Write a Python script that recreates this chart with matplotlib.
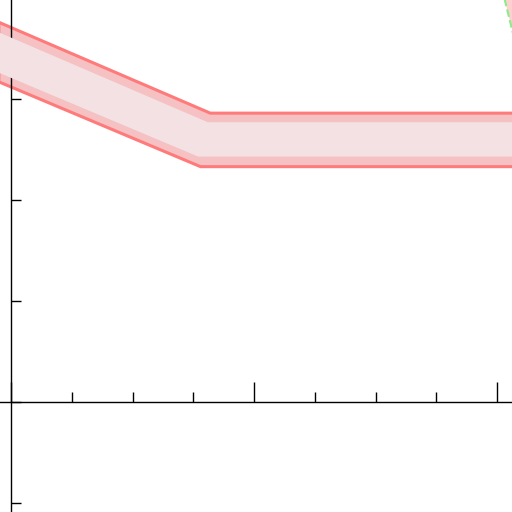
import numpy as np
import matplotlib
matplotlib.use("Agg")
import matplotlib.pyplot as plt
from matplotlib.ticker import MultipleLocator

# band edges (outer and inner)
outer_top_x = [-0.05, 0.82, 2.1]
outer_top_y = [3.76, 2.86, 2.86]
outer_bot_x = [-0.05, 0.78, 2.1]
outer_bot_y = [3.17, 2.33, 2.33]

inner_top_x = [-0.05, 0.81, 2.1]
inner_top_y = [3.66, 2.77, 2.77]
inner_bot_x = [-0.05, 0.77, 2.1]
inner_bot_y = [3.26, 2.43, 2.43]

# region in the upper right corner
corner_x = [2.02, 2.081, 2.3, 2.3]
corner_y = [4.1, 3.5, 3.5, 4.1]


def polygon(top_x, top_y, bot_x, bot_y):
    xs = list(top_x) + list(bot_x)[::-1]
    ys = list(top_y) + list(bot_y)[::-1]
    return xs, ys


def main():
    fig = plt.figure(figsize=(5.12, 5.12), dpi=100)
    ax = fig.add_axes([0, 0, 1, 1])

    xs, ys = polygon(outer_top_x, outer_top_y, outer_bot_x, outer_bot_y)
    ax.fill(xs, ys, facecolor="#f5c1c2", edgecolor="#ff7a7a", linewidth=2.2, zorder=2)
    xs, ys = polygon(inner_top_x, inner_top_y, inner_bot_x, inner_bot_y)
    ax.fill(xs, ys, facecolor="#f3e1e3", edgecolor="none", zorder=3)

    ax.fill(corner_x, corner_y, facecolor="#ffd0d0", edgecolor="#88ee88",
            linewidth=1.5, linestyle="--", zorder=2)

    ax.set_xlim(-11 / 243, 501 / 243)
    ax.set_ylim(-110 / 101, 402 / 101)

    ax.spines["left"].set_position(("data", 0))
    ax.spines["bottom"].set_position(("data", 0))
    ax.spines["top"].set_visible(False)
    ax.spines["right"].set_visible(False)
    for s in ("left", "bottom"):
        ax.spines[s].set_linewidth(1.0)

    ax.xaxis.set_major_locator(MultipleLocator(1))
    ax.xaxis.set_minor_locator(MultipleLocator(0.25))
    ax.yaxis.set_major_locator(MultipleLocator(1))
    ax.tick_params(axis="x", which="major", direction="in", length=14.4, width=1)
    ax.tick_params(axis="x", which="minor", direction="in", length=7.2, width=1)
    ax.tick_params(axis="y", which="major", direction="in", length=7.2, width=1)
    ax.set_xticklabels([])
    ax.set_yticklabels([])

    fig.savefig("out.png", dpi=100)


if __name__ == "__main__":
    main()
